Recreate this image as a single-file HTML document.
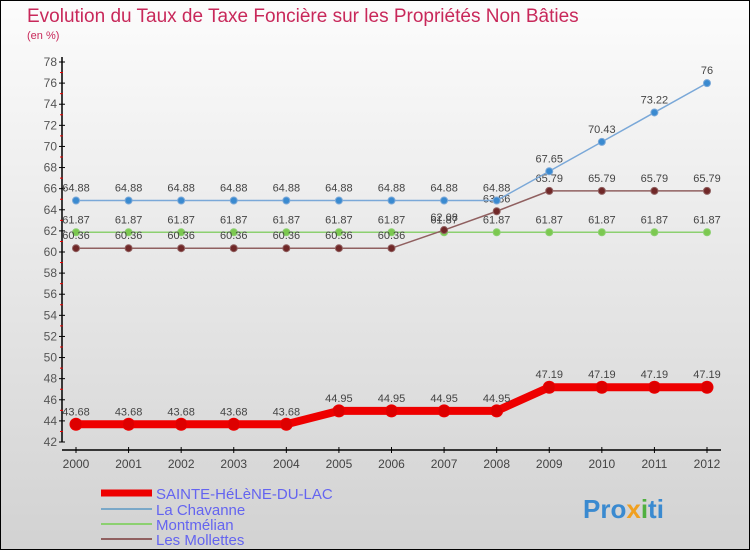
<!DOCTYPE html>
<html><head><meta charset="utf-8"><style>
body{margin:0}
#c{position:relative;width:748px;height:548px;border:1px solid #000;background:linear-gradient(#fcfcfc,#d2d2d2);font-family:"Liberation Sans",sans-serif;overflow:hidden}
</style></head><body>
<div id="c">
<svg id="s" width="748" height="548" style="position:absolute;left:0;top:0">
<text x="26" y="21" font-size="19" fill="#c8285a">Evolution du Taux de Taxe Foncière sur les Propriétés Non Bâties</text>
<text x="26" y="38" font-size="11" fill="#c8285a">(en %)</text>
<g id="axes"></g><g id="series"></g>
<g>
<line x1="100" y1="492" x2="151" y2="492" stroke="#e00" stroke-width="7"/>
<text x="155" y="498" font-size="15" fill="#6464f0">SAINTE-HéLèNE-DU-LAC</text>
<line x1="100" y1="508" x2="151" y2="508" stroke="#7aa8c8" stroke-width="2"/>
<text x="155" y="514" font-size="15" fill="#6464f0">La Chavanne</text>
<line x1="100" y1="523" x2="151" y2="523" stroke="#8cd070" stroke-width="2"/>
<text x="155" y="529" font-size="15" fill="#6464f0">Montmélian</text>
<line x1="100" y1="538" x2="151" y2="538" stroke="#906060" stroke-width="2"/>
<text x="155" y="544" font-size="15" fill="#6464f0">Les Mollettes</text>
</g>
<text x="582" y="517" font-size="26" font-weight="bold" fill="#3a8ad0">Pro<tspan fill="#f0a020">x</tspan><tspan fill="#50b040">i</tspan>ti</text>
</svg>
</div>
<script>
const years=[2000,2001,2002,2003,2004,2005,2006,2007,2008,2009,2010,2011,2012];
const sainte=[43.68,43.68,43.68,43.68,43.68,44.95,44.95,44.95,44.95,47.19,47.19,47.19,47.19];
const chavanne=[64.88,64.88,64.88,64.88,64.88,64.88,64.88,64.88,64.88,67.65,70.43,73.22,76];
const montmelian=[61.87,61.87,61.87,61.87,61.87,61.87,61.87,61.87,61.87,61.87,61.87,61.87,61.87];
const mollettes=[60.36,60.36,60.36,60.36,60.36,60.36,60.36,62.08,63.86,65.79,65.79,65.79,65.79];
const yTicks=[42,44,46,48,50,52,54,56,58,60,62,64,66,68,70,72,74,76,78];
const NS="http://www.w3.org/2000/svg";
const X=i=>75+i*(706-75)/(years.length-1);
const Y=v=>441-(v-42)*(441-61)/36;
function mk(t,a,p){const e=document.createElementNS(NS,t);for(const k in a)e.setAttribute(k,a[k]);p.appendChild(e);return e;}
const ax=document.getElementById('axes');
const yl=mk('line',{x1:61,y1:56,x2:61,y2:441,stroke:'#000','stroke-width':1.5},ax);


const xl=mk('line',{x1:61,y1:449,x2:720,y2:449,stroke:'#000','stroke-width':1.5},ax);


yTicks.forEach(v=>{
 mk('line',{x1:58,y1:Y(v),x2:64,y2:Y(v),stroke:'#000'},ax);
 if(v<78)mk('line',{x1:59,y1:Y(v+1),x2:62,y2:Y(v+1),stroke:'#e00'},ax);
 const t=mk('text',{x:56,y:Y(v)+4,'font-size':12,fill:'#555','text-anchor':'end'},ax);
 t.textContent=v;
 
 
});
years.forEach((y,i)=>{
 mk('line',{x1:X(i),y1:446,x2:X(i),y2:452,stroke:'#000'},ax);
 const t=mk('text',{x:X(i),y:467,'font-size':12,fill:'#444','text-anchor':'middle'},ax);
 t.textContent=y;
 
 
});
const sg=document.getElementById('series');
function draw(vals,color,w,r,name,dotFill){
 const g=mk('g',{},sg);
 
 
 mk('polyline',{points:vals.map((v,i)=>X(i)+','+Y(v)).join(' '),fill:'none',stroke:color,'stroke-width':w,'stroke-linejoin':'round'},g);
 vals.forEach((v,i)=>{
  const c=mk('circle',{cx:X(i),cy:Y(v),r:r,fill:dotFill,stroke:color,'stroke-width':1},g);
  
  
  const t=mk('text',{x:X(i),y:Y(v)-9,'font-size':11,fill:'#444','text-anchor':'middle'},g);
  t.textContent=v;
  
  
 });
}
draw(montmelian,'#8cd070',1.5,3.5,'series-montmelian','#7cc850');
draw(mollettes,'#906060',1.5,3.5,'series-les-mollettes','#702828');
draw(chavanne,'#7aa8d8',1.5,3.5,'series-la-chavanne','#3a8ad0');
draw(sainte,'#ee0000',8,6,'series-sainte-helene','#dd0000');
</script>
</body></html>
